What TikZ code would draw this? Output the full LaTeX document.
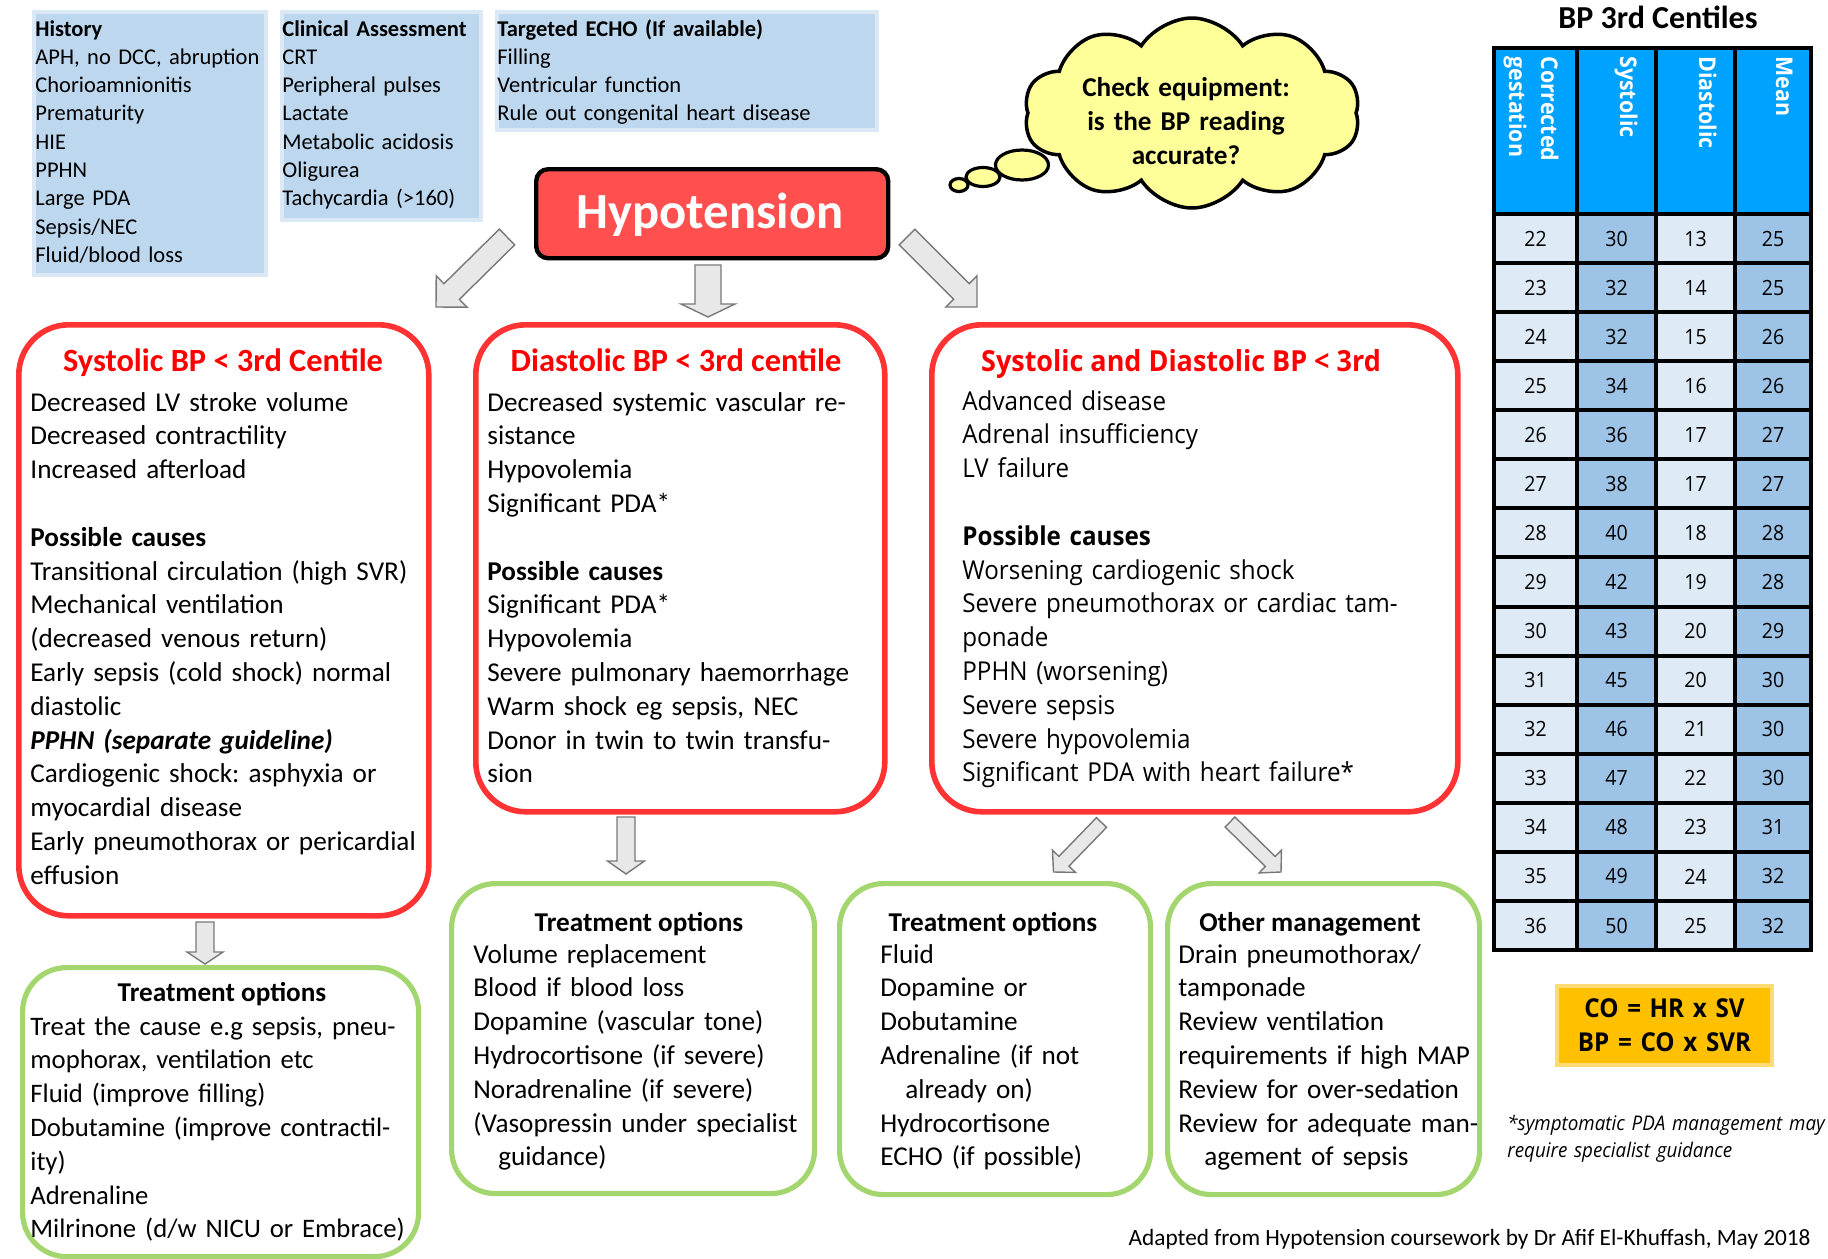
\documentclass[tikz,border=0pt]{standalone}
\usepackage{fontspec}
\setmainfont{Carlito}
\newfontfamily\seg[FakeStretch=0.93]{Open Sans}
\usetikzlibrary{shapes.symbols,shapes.geometric}
\frenchspacing

\definecolor{boxred}{RGB}{255,51,51}
\definecolor{titlered}{RGB}{255,0,0}
\definecolor{boxgreen}{RGB}{163,214,110}
\definecolor{hypred}{RGB}{255,79,79}
\definecolor{histblue}{RGB}{189,215,238}
\definecolor{arrowfill}{RGB}{232,232,232}
\definecolor{arrowdraw}{RGB}{120,120,120}
\definecolor{hdrblue}{RGB}{0,162,255}
\definecolor{celllight}{RGB}{222,235,247}
\definecolor{celldark}{RGB}{157,195,230}
\definecolor{coamber}{RGB}{255,192,0}
\definecolor{cloudyellow}{RGB}{255,255,153}

\newcommand\fbody{\fontsize{13.6pt}{16.9pt}\selectfont}
\newcommand\fbodyA{\fontsize{13.35pt}{16.9pt}\selectfont}
\newcommand\fsmall{\fontsize{11.25pt}{14.15pt}\selectfont}
\newcommand\ftitle{\fontsize{16.2pt}{18pt}\selectfont\bfseries}
\newcommand\fsegbody{\seg\fontsize{13pt}{16.9pt}\selectfont}
\newcommand\fsegtitle{\seg\fontsize{14.5pt}{18pt}\selectfont\bfseries}
\newcommand\fnum{\seg\fontsize{10.5pt}{12pt}\selectfont}
\newcommand\fhdr{\seg\fontsize{11.5pt}{16pt}\selectfont\bfseries}

\newcommand\blockarrow[7]{%
  \pgfmathsetmacro\baang{atan2(-(#4-#2),#3-#1)}%
  \pgfmathsetmacro\balen{veclen(#3-#1,#4-#2)}%
  \begin{scope}[shift={(#1,#2)},rotate=\baang]
    \draw[barrow] (0,#5) -- ({\balen-#7},#5) -- ({\balen-#7},#6) -- (\balen,0)
      -- ({\balen-#7},-#6) -- ({\balen-#7},-#5) -- (0,-#5) -- cycle;
  \end{scope}}

\begin{document}
\begin{tikzpicture}[x=0.5pt,y=-0.5pt,
  redbox/.style={draw=boxred, line width=2.8pt, rounded corners=25pt, inner sep=0pt, anchor=north west},
  greenbox/.style={draw=boxgreen, line width=2.6pt, rounded corners=22pt, inner sep=0pt, anchor=north west},
  bluebox/.style={fill=histblue, draw=histblue!55, line width=2pt, inner sep=0pt, anchor=north west},
  bodytxt/.style={anchor=base west, inner sep=0pt, align=left, font=\fbody, text width=230pt},
  segtxt/.style={anchor=base west, inner sep=0pt, align=left, font=\fsegbody, text width=250pt},
  smalltxt/.style={anchor=base west, inner sep=0pt, align=left, font=\fsmall, text width=200pt},
  redtitle/.style={anchor=base, inner sep=0pt, font=\ftitle, text=titlered},
  greentitle/.style={anchor=base, inner sep=0pt, font=\fbody\bfseries},
  barrow/.style={fill=arrowfill, draw=arrowdraw, line width=0.7pt, line join=miter},
  cellL/.style={fill=celllight, draw=black, line width=2pt, inner sep=0pt, anchor=north west, font=\fnum},
  cellD/.style={fill=celldark, draw=black, line width=2pt, inner sep=0pt, anchor=north west, font=\fnum},
  hdrcell/.style={fill=hdrblue, draw=black, line width=2pt, inner sep=0pt, anchor=north west, minimum height=83pt},
  hdrtxt/.style={rotate=-90, anchor=north west, inner sep=0pt, align=left, font=\fhdr, text=white},
  bubble/.style={ellipse, draw=black, line width=1.6pt, fill=cloudyellow, inner sep=0pt}
]
\useasboundingbox (0,0) rectangle (1828,1259);

% ---------- top information boxes ----------
\node[bluebox, minimum width=116pt, minimum height=131.5pt] (histbox) at (32,10) {};
\node[bluebox, minimum width=99.5pt, minimum height=104pt] (clinbox) at (280,10) {};
\node[bluebox, minimum width=190pt, minimum height=59pt] (echobox) at (495,10) {};

\node[smalltxt] (histtxt) at (35,36) {\textbf{History}\\APH, no DCC, abruption\\Chorioamnionitis\\Prematurity\\HIE\\PPHN\\Large PDA\\Sepsis/NEC\\Fluid/blood loss};
\node[smalltxt] (clintxt) at (282,36) {\textbf{Clinical Assessment}\\CRT\\Peripheral pulses\\Lactate\\Metabolic acidosis\\Oligurea\\Tachycardia (>160)};
\node[smalltxt] (echotxt) at (497,36) {\textbf{Targeted ECHO (If available)}\\Filling\\Ventricular function\\Rule out congenital heart disease};

% ---------- Hypotension ----------
\node[fill=hypred, draw=black, line width=2.2pt, rounded corners=6pt, minimum width=176pt, minimum height=44.5pt, inner sep=0pt, anchor=north west] (hypo) at (534,167) {};
\node[anchor=base, inner sep=0pt, font=\fontsize{25.3pt}{30pt}\selectfont\bfseries, text=white] (hypotxt) at (710,228) {Hypotension};

% ---------- thought cloud ----------
\node[cloud, cloud puffs=10, cloud puff arc=115, cloud ignores aspect, draw=black, line width=1.75pt, fill=cloudyellow, minimum width=168pt, minimum height=95pt, inner sep=0pt] (cloud) at (1192,113) {};
\node[bubble, minimum width=26.5pt, minimum height=15pt] (bub1) at (1022,165) {};
\node[bubble, minimum width=17pt, minimum height=9.5pt] (bub2) at (983,177) {};
\node[bubble, minimum width=9pt, minimum height=6.5pt] (bub3) at (959,185) {};
\node[anchor=base, inner sep=0pt, align=center, text width=140pt, font=\fontsize{13.6pt}{17.2pt}\selectfont\bfseries] (cloudtxt) at (1186,96) {Check equipment:\\is the BP reading\\accurate?};

% ---------- red boxes ----------
\node[redbox, minimum width=205pt, minimum height=295.5pt] (sys) at (16,322) {};
\node[redbox, minimum width=204.5pt, minimum height=243.5pt] (dia) at (473,322) {};
\node[redbox, minimum width=263pt, minimum height=243.5pt] (both) at (929,322) {};

\node[redtitle] (systitle) at (223,371) {Systolic BP < 3rd Centile};
\node[redtitle] (diatitle) at (676,371) {Diastolic BP < 3rd centile};
\node[redtitle, font=\fsegtitle] (bothtitle) at (1181,371) {Systolic and Diastolic BP < 3rd};

\node[bodytxt] (systxt) at (30,411) {Decreased LV stroke volume\\Decreased contractility\\Increased afterload\\[16.9pt]\textbf{Possible causes}\\Transitional circulation (high SVR)\\Mechanical ventilation\\(decreased venous return)\\Early sepsis (cold shock) normal\\diastolic\\\textbf{\textit{PPHN (separate guideline)}}\\Cardiogenic shock: asphyxia or\\myocardial disease\\Early pneumothorax or pericardial\\effusion};
\node[bodytxt] (diatxt) at (487,411) {Decreased systemic vascular re-\\sistance\\Hypovolemia\\Significant PDA*\\[16.9pt]\textbf{Possible causes}\\Significant PDA*\\Hypovolemia\\Severe pulmonary haemorrhage\\Warm shock eg sepsis, NEC\\Donor in twin to twin transfu-\\sion};
\node[segtxt] (bothtxt) at (962,410) {Advanced disease\\Adrenal insufficiency\\LV failure\\[16.9pt]\textbf{Possible causes}\\Worsening cardiogenic shock\\Severe pneumothorax or cardiac tam-\\ponade\\PPHN (worsening)\\Severe sepsis\\Severe hypovolemia\\Significant PDA with heart failure*};

% ---------- green boxes ----------
\node[greenbox, minimum width=198pt, minimum height=144.5pt] (treatA) at (20,965) {};
\node[greenbox, minimum width=181.5pt, minimum height=155pt] (treatB) at (449,881) {};
\node[greenbox, minimum width=155.5pt, minimum height=155.5pt] (treatC) at (837,881) {};
\node[greenbox, minimum width=156pt, minimum height=155.5pt] (other) at (1165,881) {};

\node[greentitle] (tAtitle) at (222,1001) {Treatment options};
\node[greentitle] (tBtitle) at (639,931) {Treatment options};
\node[greentitle] (tCtitle) at (993,931) {Treatment options};
\node[greentitle] (otitle) at (1310,931) {Other management};

\node[bodytxt, font=\fbodyA] (tAtxt) at (30,1035) {Treat the cause e.g sepsis, pneu-\\mophorax, ventilation etc\\Fluid (improve filling)\\Dobutamine (improve contractil-\\ity)\\Adrenaline\\Milrinone (d/w NICU or Embrace)};
\node[bodytxt] (tBtxt) at (473,963) {Volume replacement\\Blood if blood loss\\Dopamine (vascular tone)\\Hydrocortisone (if severe)\\Noradrenaline (if severe)\\(Vasopressin under specialist\\\hspace*{12.5pt}guidance)};
\node[bodytxt] (tCtxt) at (880,963) {Fluid\\Dopamine or\\Dobutamine\\Adrenaline (if not\\\hspace*{12.5pt}already on)\\Hydrocortisone\\ECHO (if possible)};
\node[bodytxt] (otxt) at (1178,963) {Drain pneumothorax/\\tamponade\\Review ventilation\\requirements if high MAP\\Review for over-sedation\\Review for adequate man-\\\hspace*{13pt}agement of sepsis};

% ---------- block arrows ----------
\blockarrow{507}{237}{436}{307}{11}{22}{22}
\blockarrow{708}{265}{708}{317}{13}{27}{13}
\blockarrow{907}{237}{977}{307}{11}{22}{22}
\blockarrow{205}{922}{205}{964}{9}{18}{12}
\blockarrow{626}{817}{626}{874}{9}{18.5}{13}
\blockarrow{1101.5}{822.5}{1053.5}{872}{7}{16}{15}
\blockarrow{1230}{822}{1281}{872}{7}{16}{15}

% ---------- BP centile table ----------
\node[anchor=base, inner sep=0pt, font=\fontsize{16pt}{18pt}\selectfont\bfseries] (tabtitle) at (1658,28) {BP 3rd Centiles};
\node[hdrcell, minimum width=41.5pt] (h1) at (1492,46) {};
\node[hdrcell, minimum width=39.5pt] (h2) at (1575,46) {};
\node[hdrcell, minimum width=39.5pt] (h3) at (1654,46) {};
\node[hdrcell, minimum width=38pt] (h4) at (1733,46) {};
\node[hdrtxt] (h1t) at (1559,56) {Corrected\\gestation};
\node[hdrtxt] (h2t) at (1638,56) {Systolic};
\node[hdrtxt] (h3t) at (1717,56) {Diastolic};
\node[hdrtxt] (h4t) at (1793,56) {Mean};

\foreach \a/\b/\c/\d [count=\i from 0] in {22/30/13/25,23/32/14/25,24/32/15/26,25/34/16/26,26/36/17/27,27/38/17/27,28/40/18/28,29/42/19/28,30/43/20/29,31/45/20/30,32/46/21/30,33/47/22/30,34/48/23/31,35/49/24/32,36/50/25/32}{
  \pgfmathsetmacro\yy{212+49.07*\i}
  \node[cellL, minimum width=41.5pt, minimum height=24.535pt] (c\i-1) at (1492,\yy) {\a};
  \node[cellD, minimum width=39.5pt, minimum height=24.535pt] (c\i-2) at (1575,\yy) {\b};
  \node[cellL, minimum width=39.5pt, minimum height=24.535pt] (c\i-3) at (1654,\yy) {\c};
  \node[cellD, minimum width=38pt, minimum height=24.535pt] (c\i-4) at (1733,\yy) {\d};
}

% ---------- formulas and notes ----------
\node[fill=coamber, draw=coamber!55, line width=2pt, minimum width=107.5pt, minimum height=39.5pt, inner sep=0pt] (cobox) at (1664.5,1025.5) {};
\node[anchor=base, inner sep=0pt, align=center, text width=110pt, font=\seg\fontsize{13pt}{17pt}\selectfont\bfseries] (cotxt) at (1664.5,1017) {CO = HR x SV\\BP = CO x SVR};

\node[anchor=base west, inner sep=0pt, align=left, text width=170pt, font=\seg\itshape\fontsize{10.1pt}{13.5pt}\selectfont] (pdanote) at (1507,1130) {*symptomatic PDA management may\\require specialist guidance};

\node[anchor=base east, inner sep=0pt, font=\fontsize{11.65pt}{13pt}\selectfont] (footer) at (1811,1245) {Adapted from Hypotension coursework by Dr Afif El-Khuffash, May 2018};
\end{tikzpicture}
\end{document}
